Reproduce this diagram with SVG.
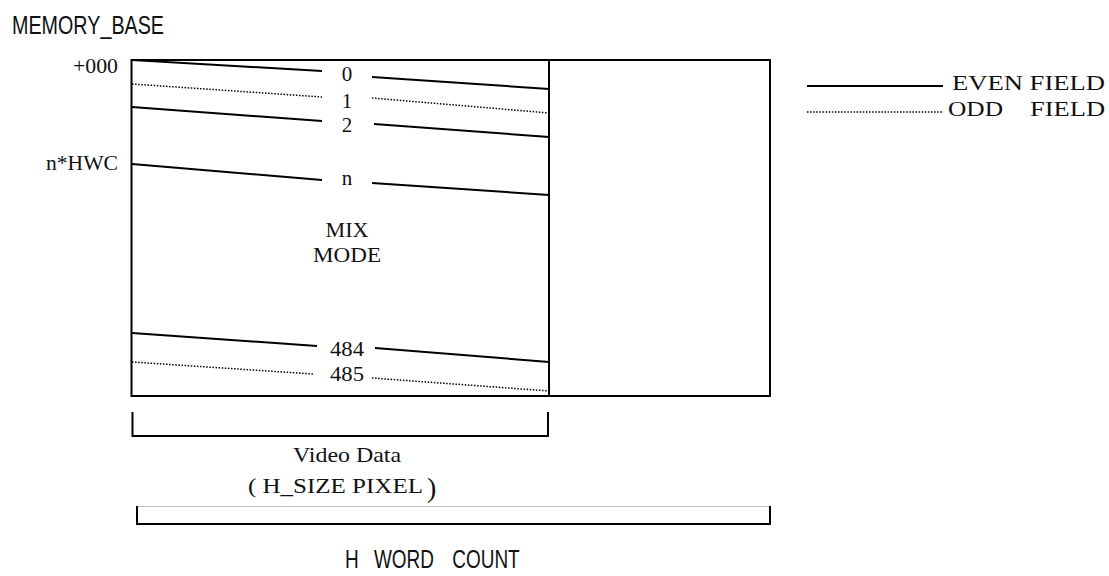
<svg xmlns="http://www.w3.org/2000/svg" width="1109" height="576" viewBox="0 0 1109 576">
<style>
.s{font-family:"Liberation Serif","Times New Roman",serif;font-size:21px;fill:#111}
.m{text-anchor:middle}
.e{text-anchor:end}
.g{font-family:"Liberation Sans",Arial,sans-serif;fill:#111}
.frame{fill:none;stroke:#000;stroke-width:2}
.sol{stroke:#000;stroke-width:2;fill:none}
.dot{stroke:#000;stroke-width:1.5;stroke-dasharray:1.5 1.6;fill:none}
</style>
<rect width="1109" height="576" fill="#fff"/>
<g id="title">
<text class="g" font-size="26" transform="scale(0.76 1)" x="15.8" y="34" textLength="200" lengthAdjust="spacingAndGlyphs">MEMORY_BASE</text>
</g>
<g id="memory-frame">
<rect class="frame" x="131.5" y="60" width="638.5" height="336"/>
<line class="sol" x1="549" y1="60" x2="549" y2="396"/>
</g>
<g id="offset-labels">
<text class="s e" x="118" y="73" textLength="45" lengthAdjust="spacingAndGlyphs">+000</text>
<text class="s e" x="118" y="170" textLength="72" lengthAdjust="spacingAndGlyphs">n*HWC</text>
</g>
<g id="connectors">
<polyline class="sol" points="132,60 322,71"/><polyline class="sol" points="372,77 549,89"/>
<polyline class="dot" points="132,84 322,97"/><polyline class="dot" points="372,98 549,113"/>
<polyline class="sol" points="132,107 322,121"/><polyline class="sol" points="374,124 549,137"/>
<polyline class="sol" points="132,164 322,180"/><polyline class="sol" points="372,183 549,195"/>
<polyline class="sol" points="132,333 317,346"/><polyline class="sol" points="375,348 549,362"/>
<polyline class="dot" points="132,362 313,374"/><polyline class="dot" points="372,378 549,391"/>
</g>
<g id="line-labels">
<text class="s m" x="347" y="81">0</text>
<text class="s m" x="347" y="108">1</text>
<text class="s m" x="347" y="132">2</text>
<text class="s m" x="347" y="185">n</text>
<text class="s m" x="347" y="356" textLength="34" lengthAdjust="spacingAndGlyphs">484</text>
<text class="s m" x="347" y="381" textLength="34" lengthAdjust="spacingAndGlyphs">485</text>
</g>
<g id="mix-mode">
<text class="s m" x="347" y="237" textLength="43" lengthAdjust="spacingAndGlyphs">MIX</text>
<text class="s m" x="347" y="262" textLength="68" lengthAdjust="spacingAndGlyphs">MODE</text>
</g>
<g id="legend">
<line class="sol" x1="807" y1="86" x2="943" y2="86" stroke-width="1.5"/>
<line class="dot" x1="807" y1="112" x2="943" y2="112" stroke-width="1.2"/>
<text class="s" font-size="22" x="952" y="90" textLength="153" lengthAdjust="spacingAndGlyphs">EVEN FIELD</text>
<text class="s" font-size="22" y="116"><tspan x="948" textLength="55" lengthAdjust="spacingAndGlyphs">ODD</tspan> <tspan x="1030" textLength="75" lengthAdjust="spacingAndGlyphs">FIELD</tspan></text>
</g>
<g id="video-data">
<polyline class="sol" points="132.5,412 132.5,436 548,436 548,412"/>
<text class="s m" x="347" y="462" textLength="108" lengthAdjust="spacingAndGlyphs">Video Data</text>
<text class="s" y="493"><tspan x="248" textLength="174" lengthAdjust="spacingAndGlyphs">( H_SIZE PIXEL</tspan> <tspan x="427" font-size="28" y="497">)</tspan></text>
</g>
<g id="h-word-count">
<rect x="137" y="506.5" width="633" height="17" fill="none" stroke="#bbb" stroke-width="1"/>
<polyline class="sol" points="137,506 137,524 770,524 770,506"/>
<text class="g" font-size="25" transform="scale(0.76 1)" y="568"><tspan x="454">H</tspan> <tspan x="492">WORD</tspan> <tspan x="595">COUNT</tspan></text>
</g>
</svg>
